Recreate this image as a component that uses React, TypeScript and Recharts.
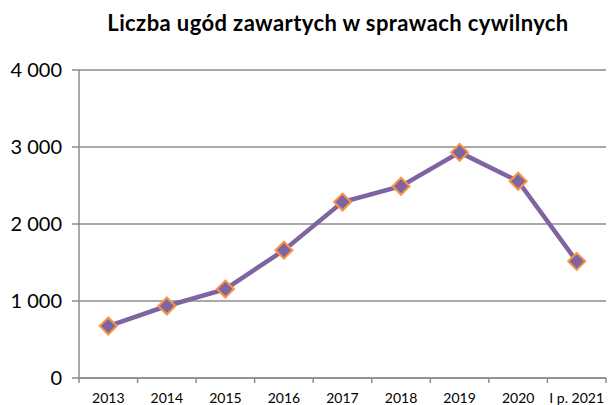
import React from 'react';
import { LineChart, Line, XAxis, YAxis, CartesianGrid } from 'recharts';

const years = ['2013', '2014', '2015', '2016', '2017', '2018', '2019', '2020', 'I p. 2021'];
const settlements = [675, 935, 1155, 1660, 2285, 2490, 2930, 2555, 1515];
const yTicks = [0, 1000, 2000, 3000, 4000];

const chartData = years.map((year, i) => ({ year, value: settlements[i] }));

const PURPLE = '#8064A2';
const ORANGE = '#F79646';
const AXIS_GREY = '#8C8C8C';

const formatThousands = (v: number) => String(v).replace(/\B(?=(\d{3})+(?!\d))/g, ' ');

// diamond marker, Excel style
const Diamond = (props: any) => {
  const { cx, cy, index } = props;
  if (cx == null || cy == null) return null;
  const r = 8.5;
  return (
    <path
      key={`d-${index}`}
      d={`M${cx},${cy - r} L${cx + r},${cy} L${cx},${cy + r} L${cx - r},${cy} Z`}
      fill={PURPLE}
      stroke={ORANGE}
      strokeWidth={2}
    />
  );
};

// category label at centre, tick marks at category boundaries
const XTick = (props: any) => {
  const { x, y, payload, index, visibleTicksCount } = props;
  const band = 527 / years.length;
  const isLast = index === (visibleTicksCount ?? years.length) - 1;
  return (
    <g>
      <line x1={x - band / 2} x2={x - band / 2} y1={y - 8} y2={y - 3} stroke={AXIS_GREY} strokeWidth={1.5} />
      {isLast && (
        <line x1={x + band / 2} x2={x + band / 2} y1={y - 8} y2={y - 3} stroke={AXIS_GREY} strokeWidth={1.5} />
      )}
      <text x={x} y={y + 17} textAnchor="middle" fontSize={14} fill="#000">
        {payload.value}
      </text>
    </g>
  );
};

const App: React.FC = () => {
  return (
    <div style={{ position: 'absolute', left: 0, top: 0, width: 608, height: 405, background: '#fff', fontFamily: 'Lato, "Open Sans", sans-serif' }}>
      <div
        style={{
          position: 'absolute',
          left: 60,
          width: 556,
          top: 9,
          textAlign: 'center',
          fontWeight: 700,
          fontSize: 22,
          letterSpacing: 0.4,
          color: '#000',
        }}
      >
        Liczba ugód zawartych w sprawach cywilnych
      </div>
      <LineChart
        width={608}
        height={405}
        data={chartData}
        margin={{ top: 70, right: 2, bottom: 0, left: 0 }}
      >
        <CartesianGrid vertical={false} stroke={AXIS_GREY} strokeWidth={1.5} />
        <XAxis
          dataKey="year"
          scale="band"
          tick={<XTick />}
          tickLine={false}
          axisLine={{ stroke: AXIS_GREY, strokeWidth: 1.5 }}
          height={27}
          interval={0}
        />
        <YAxis
          domain={[0, 4000]}
          ticks={yTicks}
          tickFormatter={formatThousands}
          tick={{ fontSize: 20, fill: '#000' }}
          tickSize={7}
          tickMargin={10}
          tickLine={{ stroke: AXIS_GREY, strokeWidth: 1.5 }}
          axisLine={{ stroke: AXIS_GREY, strokeWidth: 1.5 }}
          width={79}
          interval={0}
        />
        <Line
          type="linear"
          dataKey="value"
          stroke={PURPLE}
          strokeWidth={4.5}
          dot={<Diamond />}
          activeDot={false}
          isAnimationActive={false}
        />
      </LineChart>
    </div>
  );
};

export default App;
